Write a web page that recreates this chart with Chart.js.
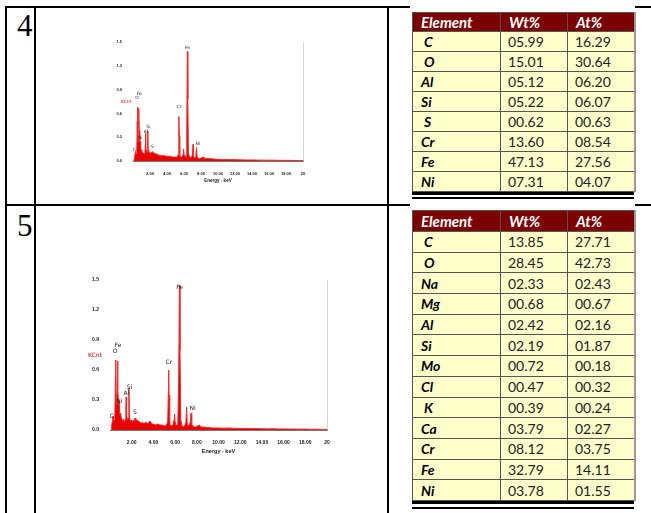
<!DOCTYPE html>
<html>
<head>
<meta charset="utf-8">
<script src="https://cdn.jsdelivr.net/npm/chart.js@4.4.1/dist/chart.umd.min.js"></script>
<style>
  body { margin: 0; width: 651px; height: 513px; background: #fff; position: relative; overflow: hidden; }
  .ln { position: absolute; background: #000; }
  .num { position: absolute; font-family: "Liberation Serif", serif; font-size: 31px; line-height: 31px; }
  .box { position: absolute; background: #fff; }
  .spec { position: absolute; }
  table.eds { position: absolute; border-collapse: collapse; table-layout: fixed; font-family: Lato, "Open Sans", sans-serif; border-right: 2px solid #999; }
  table.eds th { background: #7b0000; color: #fff; font-style: italic; font-weight: 700; text-align: left; padding: 0 0 0 8px; font-size: 15px; border: 1px solid #555; }
  table.eds td { background: #ffffcc; border: 1px solid #555; padding: 0 0 0 7px; font-size: 14px; color: #222; white-space: pre; }
  table.eds td.el { font-weight: 700; font-style: italic; color: #000; padding-left: 8px; }
  .dbl { position: absolute; background: #000; }
</style>
</head>
<body>

<!-- lignes du tableau extérieur -->
<div class="ln" style="left:5px;top:6px;width:646px;height:2px"></div>
<div class="ln" style="left:5px;top:204px;width:646px;height:2px"></div>
<div class="ln" style="left:5px;top:6px;width:2px;height:507px"></div>
<div class="ln" style="left:34px;top:6px;width:2px;height:507px"></div>
<div class="ln" style="left:387px;top:6px;width:2px;height:507px"></div>

<div class="num" style="left:17px;top:10px">4</div>
<div class="num" style="left:17px;top:210px">5</div>

<!-- spectres -->
<canvas id="spec4" class="spec" width="210" height="148" style="left:110px;top:35px"></canvas>
<canvas id="spec5" class="spec" width="260" height="185" style="left:80px;top:270px"></canvas>

<!-- tableaux de composition -->
<div class="box" style="left:410px;top:3px;width:225px;height:200px"></div>
<div class="box" style="left:410px;top:203px;width:225px;height:310px"></div>
<table class="eds" id="tab4" style="left:412px;top:12px"></table>
<table class="eds" id="tab5" style="left:412px;top:210px"></table>
<div class="dbl" style="left:412px;top:192px;width:222px;height:3px"></div>
<div class="dbl" style="left:412px;top:197px;width:222px;height:2px"></div>
<div class="dbl" style="left:412px;top:501px;width:222px;height:3px"></div>
<div class="dbl" style="left:412px;top:507px;width:222px;height:2px"></div>

<script>
// Données des spectres EDS (énergie en keV, intensité en KCnt)
const energyKeV = [
  0.10, 0.15, 0.20, 0.25, 0.28, 0.32, 0.38, 0.45, 0.50, 0.52,
  0.55, 0.58, 0.62, 0.66, 0.70, 0.73, 0.78, 0.82, 0.85, 0.88,
  0.93, 0.98, 1.04, 1.10, 1.20, 1.25, 1.32, 1.40, 1.46, 1.49,
  1.53, 1.60, 1.67, 1.74, 1.79, 1.86, 1.95, 2.05, 2.15, 2.25,
  2.31, 2.38, 2.50, 2.62, 2.75, 2.90, 3.00, 3.10, 3.31, 3.45,
  3.69, 3.85, 4.01, 4.20, 4.40, 4.60, 4.80, 5.00, 5.20, 5.32,
  5.38, 5.41, 5.44, 5.50, 5.65, 5.80, 5.90, 5.95, 6.00, 6.10,
  6.25, 6.33, 6.40, 6.45, 6.52, 6.65, 6.85, 7.00, 7.06, 7.12,
  7.30, 7.40, 7.47, 7.53, 7.70, 7.90, 8.05, 8.26, 8.35, 8.60,
  9.00, 9.50, 10.0, 10.5, 11.0, 11.5, 12.0, 12.5, 13.0, 13.5,
  14.0, 14.5, 15.0, 15.5, 16.0, 16.5, 17.0, 17.5, 18.0, 18.5,
  19.0, 19.5, 20.0
];

const counts4 = [
  0.00, 0.03, 0.06, 0.10, 0.12, 0.07, 0.09, 0.14, 0.50, 0.68,
  0.42, 0.24, 0.28, 0.42, 0.66, 0.38, 0.30, 0.26, 0.25, 0.17,
  0.15, 0.14, 0.12, 0.11, 0.10, 0.10, 0.09, 0.11, 0.22, 0.35,
  0.14, 0.11, 0.12, 0.38, 0.14, 0.10, 0.11, 0.10, 0.11, 0.10,
  0.12, 0.10, 0.10, 0.09, 0.09, 0.08, 0.08, 0.07, 0.07, 0.07,
  0.07, 0.06, 0.06, 0.06, 0.06, 0.05, 0.05, 0.05, 0.05, 0.08,
  0.38, 0.56, 0.32, 0.06, 0.05, 0.05, 0.09, 0.15, 0.08, 0.05,
  0.06, 0.48, 1.38, 0.78, 0.10, 0.05, 0.04, 0.08, 0.21, 0.06,
  0.04, 0.08, 0.17, 0.06, 0.03, 0.03, 0.04, 0.05, 0.03, 0.03,
  0.030, 0.025, 0.020, 0.020, 0.018, 0.017, 0.016, 0.015, 0.014, 0.013,
  0.013, 0.012, 0.011, 0.011, 0.010, 0.010, 0.009, 0.009, 0.008, 0.008,
  0.007, 0.007, 0.006
];

const counts5 = [
  0.00, 0.03, 0.08, 0.12, 0.14, 0.08, 0.10, 0.15, 0.55, 0.70,
  0.45, 0.25, 0.30, 0.45, 0.69, 0.40, 0.30, 0.25, 0.28, 0.18,
  0.15, 0.17, 0.12, 0.12, 0.09, 0.11, 0.08, 0.10, 0.20, 0.33,
  0.15, 0.10, 0.12, 0.42, 0.14, 0.09, 0.10, 0.08, 0.10, 0.09,
  0.12, 0.09, 0.10, 0.09, 0.08, 0.07, 0.08, 0.06, 0.08, 0.06,
  0.09, 0.06, 0.06, 0.05, 0.06, 0.05, 0.05, 0.04, 0.05, 0.08,
  0.40, 0.60, 0.35, 0.06, 0.04, 0.05, 0.10, 0.16, 0.08, 0.04,
  0.06, 0.50, 1.45, 0.80, 0.10, 0.04, 0.03, 0.08, 0.23, 0.06,
  0.04, 0.08, 0.17, 0.06, 0.03, 0.03, 0.04, 0.05, 0.03, 0.03,
  0.025, 0.020, 0.020, 0.018, 0.020, 0.016, 0.015, 0.016, 0.013, 0.014,
  0.012, 0.011, 0.012, 0.010, 0.011, 0.009, 0.010, 0.008, 0.009, 0.007,
  0.008, 0.006, 0.006
];

// Graduations des axes
const xTickValues = [2, 4, 6, 8, 10, 12, 14, 16, 18, 20];
const xTickLabels = ['2.00', '4.00', '6.00', '8.00', '10.00', '12.00', '14.00', '16.00', '18.00', '20'];
const yTickValues = [0, 0.3, 0.6, 0.9, 1.2, 1.5];
const yTickLabels = ['0.0', '0.3', '0.6', '0.9', '1.2', '1.5'];

// Étiquettes des pics (position en keV et hauteur en KCnt)
const peakNames = ['C', 'O', 'Fe', 'Ni', 'Al', 'Si', 'S', 'Cr', 'Fe', 'Ni'];
const peakKeV = [0.18, 0.47, 0.74, 0.85, 1.52, 1.80, 2.30, 5.42, 6.42, 7.62];
const peakLabelKcnt = [0.14, 0.79, 0.85, 0.29, 0.37, 0.43, 0.18, 0.68, 1.43, 0.22];

// Tableaux de composition
const elements4 = [' C', ' O', 'Al', 'Si', ' S', 'Cr', 'Fe', 'Ni'];
const wt4 = ['05.99', '15.01', '05.12', '05.22', '00.62', '13.60', '47.13', '07.31'];
const at4 = ['16.29', '30.64', '06.20', '06.07', '00.63', '08.54', '27.56', '04.07'];

const elements5 = [' C', ' O', 'Na', 'Mg', 'Al', 'Si', 'Mo', 'Cl', ' K', 'Ca', 'Cr', 'Fe', 'Ni'];
const wt5 = ['13.85', '28.45', '02.33', '00.68', '02.42', '02.19', '00.72', '00.47', '00.39', '03.79', '08.12', '32.79', '03.78'];
const at5 = ['27.71', '42.73', '02.43', '00.67', '02.16', '01.87', '00.18', '00.32', '00.24', '02.27', '03.75', '14.11', '01.55'];


// Construction d'un tableau HTML
function buildTable(id, elems, wt, at, headH, rowH) {
    const t = document.getElementById(id);
    let html = '<colgroup><col style="width:88px"><col style="width:67px"><col style="width:67px"></colgroup>';
    html += `<tr style="height:${headH}px"><th>Element</th><th>Wt%</th><th>At%</th></tr>`;
    elems.forEach((e, i) => {
        html += `<tr style="height:${rowH}px"><td class="el">${e}</td><td>${wt[i]}</td><td>${at[i]}</td></tr>`;
    });
    t.innerHTML = html;
}
buildTable('tab4', elements4, wt4, at4, 19, 20);
buildTable('tab5', elements5, wt5, at5, 21, 20.7);


// Plugin : étiquettes des pics, "KCnt" et bord droit
const peakLabelPlugin = {
    id: 'peakLabels',
    afterDatasetsDraw(chart, args, opts) {
        const { ctx, chartArea, scales: { x, y } } = chart;
        ctx.save();
        ctx.strokeStyle = '#d8d8d8';
        ctx.lineWidth = 1;
        ctx.beginPath();
        ctx.moveTo(chartArea.right + 0.5, chartArea.top);
        ctx.lineTo(chartArea.right + 0.5, chartArea.bottom);
        ctx.stroke();

        ctx.font = `${opts.size}px "DejaVu Sans", sans-serif`;
        ctx.fillStyle = '#222';
        ctx.textAlign = 'center';
        ctx.textBaseline = 'middle';
        peakNames.forEach((n, i) => {
            ctx.fillText(n, x.getPixelForValue(peakKeV[i]), y.getPixelForValue(peakLabelKcnt[i]));
        });

        ctx.fillStyle = '#e00000';
        ctx.textAlign = 'left';
        ctx.fillText('KCnt', opts.kcntX, y.getPixelForValue(0.75));
        ctx.restore();
    }
};


// Création d'un spectre
function makeSpectrum(id, counts, cfg) {
    const ctx = document.getElementById(id).getContext('2d');
    return new Chart(ctx, {
        type: 'line',
        data: {
            datasets: [{
                data: energyKeV.map((e, i) => ({ x: e, y: counts[i] })),
                borderColor: 'rgb(238, 40, 40)',
                backgroundColor: 'rgb(230, 0, 0)',
                borderWidth: 1,
                pointRadius: 0,
                tension: 0,
                fill: 'origin'
            }]
        },
        options: {
            responsive: false,
            animation: false,
            devicePixelRatio: 1,
            layout: { padding: { top: cfg.padTop, right: cfg.padRight, left: 0, bottom: 0 } },
            plugins: {
                legend: { display: false },
                tooltip: { enabled: false },
                peakLabels: { size: cfg.labelSize, kcntX: cfg.kcntX }
            },
            scales: {
                x: {
                    type: 'linear',
                    min: 0,
                    max: 20,
                    grid: { display: false },
                    border: { display: true, color: '#777' },
                    afterBuildTicks: s => { s.ticks = xTickValues.map(v => ({ value: v })); },
                    afterFit: s => { s.height = cfg.xHeight; },
                    ticks: {
                        autoSkip: false,
                        maxRotation: 0,
                        padding: 2,
                        color: '#222',
                        font: { size: cfg.tickSize, weight: 'bold' },
                        callback: v => xTickLabels[xTickValues.indexOf(v)]
                    },
                    title: {
                        display: true,
                        text: 'Energy - keV',
                        color: '#222',
                        padding: 0,
                        font: { size: cfg.tickSize + 0.5, weight: 'bold' }
                    }
                },
                y: {
                    min: 0,
                    max: 1.5,
                    grid: { display: false },
                    border: { display: false },
                    afterBuildTicks: s => { s.ticks = yTickValues.map(v => ({ value: v })); },
                    afterFit: s => { s.width = cfg.yWidth; },
                    ticks: {
                        padding: 3,
                        color: '#222',
                        font: { size: cfg.tickSize, weight: 'bold' },
                        callback: v => yTickLabels[yTickValues.indexOf(v)]
                    }
                }
            }
        },
        plugins: [peakLabelPlugin]
    });
}

makeSpectrum('spec4', counts4, { padTop: 7, padRight: 17, xHeight: 22, yWidth: 23, tickSize: 4, labelSize: 4.5, kcntX: 11 });
makeSpectrum('spec5', counts5, { padTop: 10, padRight: 13, xHeight: 25, yWidth: 30, tickSize: 5, labelSize: 6, kcntX: 8 });
</script>
</body>
</html>
